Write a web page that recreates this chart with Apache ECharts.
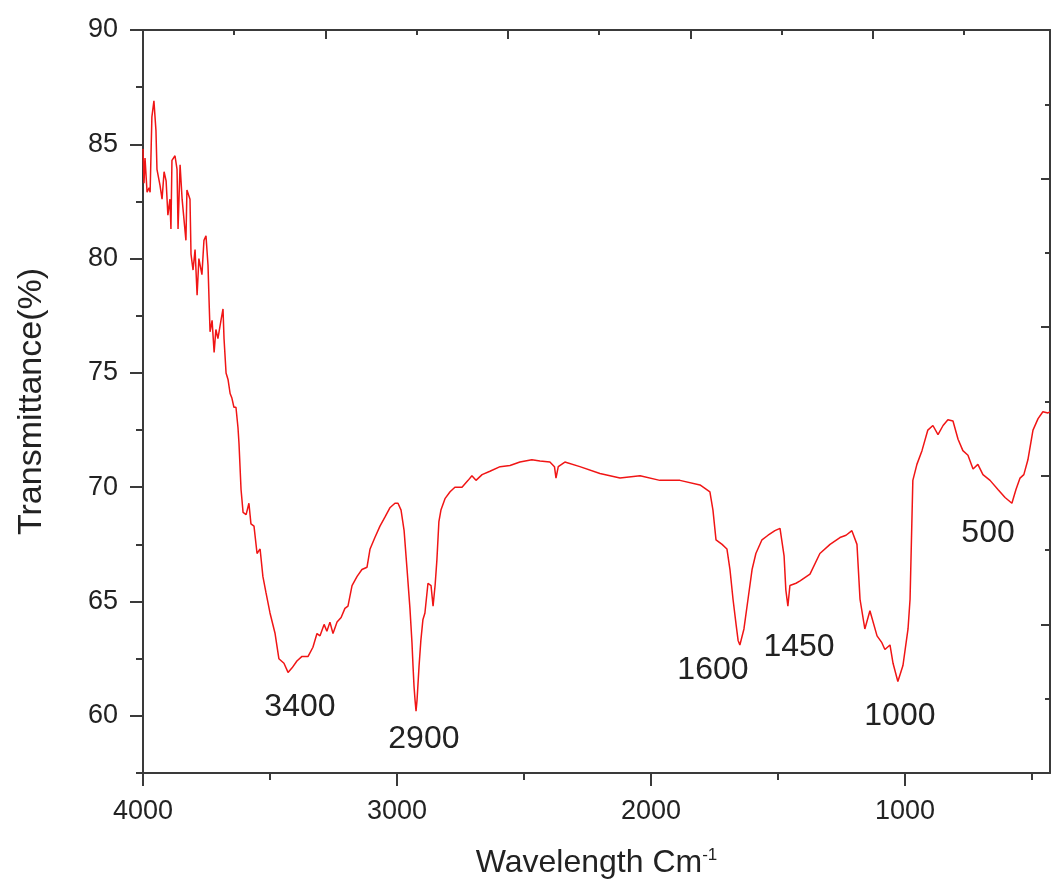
<!DOCTYPE html>
<html>
<head>
<meta charset="utf-8">
<script src="https://cdn.jsdelivr.net/npm/echarts@6/dist/echarts.min.js"></script>
<style>
  html, body { margin: 0; padding: 0; background: #fff; }
  #chart { width: 1051px; height: 886px; }
</style>
</head>
<body>
<div id="chart"></div>
<script>
// FTIR spectrum, [wavenumber, transmittance %]
const spectrum = [
  [4000, 84.8], [3996, 83.3], [3992, 84.4], [3984, 82.9], [3976, 83.1], [3972, 82.9], [3965, 86.2], [3957, 86.9],
  [3949, 85.6], [3945, 83.9], [3933, 83.2], [3925, 82.6], [3917, 83.8], [3909, 83.4], [3902, 81.9], [3894, 82.6],
  [3890, 81.3], [3886, 84.3], [3874, 84.5], [3866, 83.9], [3862, 81.3], [3854, 84.1], [3846, 82.6], [3839, 82.6],
  [3831, 80.8], [3827, 83.0], [3815, 82.6], [3811, 80.2], [3803, 79.5], [3795, 80.4], [3787, 78.4], [3780, 80.0],
  [3768, 79.3], [3760, 80.8], [3752, 81.0], [3744, 79.7], [3740, 78.2], [3736, 76.8], [3728, 77.3], [3720, 75.9],
  [3713, 76.9], [3705, 76.5], [3693, 77.3], [3685, 77.8], [3681, 76.5], [3673, 75.0], [3665, 74.7], [3657, 74.1],
  [3650, 73.9], [3642, 73.5], [3634, 73.5], [3626, 72.6], [3622, 71.9], [3614, 69.9], [3606, 68.9], [3594, 68.8],
  [3583, 69.3], [3575, 68.4], [3563, 68.3], [3551, 67.1], [3539, 67.3], [3528, 66.1], [3516, 65.4], [3500, 64.5],
  [3480, 63.6], [3465, 62.5], [3445, 62.3], [3429, 61.9], [3413, 62.1], [3394, 62.4], [3374, 62.6], [3350, 62.6],
  [3331, 63.0], [3315, 63.6], [3303, 63.5], [3287, 64.0], [3276, 63.7], [3264, 64.1], [3252, 63.6], [3236, 64.1],
  [3220, 64.3], [3205, 64.7], [3193, 64.8], [3177, 65.7], [3157, 66.1], [3138, 66.4], [3118, 66.5], [3106, 67.3],
  [3087, 67.8], [3067, 68.3], [3047, 68.7], [3028, 69.1], [3008, 69.3], [2996, 69.3], [2984, 69.0], [2972, 68.1],
  [2961, 66.5], [2949, 64.7], [2941, 63.2], [2937, 62.2], [2933, 61.3], [2929, 60.7], [2925, 60.2], [2921, 60.7],
  [2913, 62.2], [2906, 63.3], [2898, 64.2], [2890, 64.5], [2878, 65.8], [2866, 65.7], [2858, 64.8], [2850, 65.7],
  [2843, 66.8], [2835, 68.5], [2827, 69.0], [2811, 69.5], [2791, 69.8], [2772, 70.0], [2744, 70.0], [2720, 70.3],
  [2705, 70.5], [2689, 70.3], [2665, 70.55], [2634, 70.7], [2594, 70.9], [2555, 70.95], [2516, 71.1], [2469, 71.2],
  [2437, 71.15], [2398, 71.1], [2380, 70.9], [2374, 70.4], [2365, 70.9], [2339, 71.1], [2280, 70.9], [2201, 70.6],
  [2122, 70.4], [2043, 70.5], [1965, 70.3], [1886, 70.3], [1807, 70.1], [1768, 69.8], [1756, 69.0], [1744, 67.7],
  [1720, 67.5], [1701, 67.3], [1689, 66.4], [1677, 65.1], [1665, 64.0], [1657, 63.3], [1650, 63.1], [1634, 63.8],
  [1618, 65.1], [1602, 66.4], [1587, 67.1], [1563, 67.7], [1539, 67.9], [1512, 68.1], [1492, 68.2], [1476, 67.0],
  [1469, 65.5], [1461, 64.8], [1453, 65.7], [1429, 65.8], [1413, 65.9], [1374, 66.2], [1335, 67.1], [1295, 67.5],
  [1256, 67.8], [1232, 67.9], [1209, 68.1], [1189, 67.5], [1177, 65.1], [1158, 63.8], [1138, 64.6], [1110, 63.5],
  [1091, 63.2], [1079, 62.9], [1059, 63.1], [1047, 62.3], [1028, 61.5], [1008, 62.2], [988, 63.8], [980, 65.1],
  [969, 70.3], [953, 71.0], [933, 71.6], [910, 72.5], [890, 72.7], [870, 72.3], [850, 72.7], [831, 72.95],
  [811, 72.9], [791, 72.1], [772, 71.6], [752, 71.4], [732, 70.8], [713, 71.0], [693, 70.55], [665, 70.3],
  [634, 69.9], [606, 69.55], [579, 69.3], [563, 69.9], [547, 70.4], [532, 70.55], [516, 71.2], [496, 72.5],
  [476, 73.0], [457, 73.3], [437, 73.25], [429, 73.3]
]

// peak annotations [x, y, text]
const peakLabels = [
  [3382, 60.4, '3400'],
  [2894, 59.0, '2900'],
  [1756, 62.0, '1600'],
  [1417, 63.0, '1450'],
  [1020, 60.0, '1000'],
  [673, 68.0, '500']
]

const xLabels = [4000, 3000, 2000, 1000]
const xMinorTicks = [3500, 2500, 1500, 500]
const yLabels = [60, 65, 70, 75, 80, 85, 90]

const axisColor = '#3a3a3a'
const textColor = '#222'
const font = '"Liberation Sans", Arial, sans-serif'

const chart = echarts.init(document.getElementById('chart'))
chart.setOption({
  animation: false,
  grid: { left: 143, right: 1, top: 30, bottom: 113 },
  xAxis: [
    {
      type: 'value', position: 'bottom', inverse: true, min: 429, max: 4000,
      name: 'Wavelength Cm{sup|-1}', nameLocation: 'middle', nameGap: 74,
      nameTextStyle: {
        fontSize: 32, color: textColor, fontFamily: font,
        rich: { sup: { fontSize: 17, verticalAlign: 'top', color: textColor, fontFamily: font } }
      },
      axisLine: { lineStyle: { color: axisColor, width: 2 } },
      axisTick: { customValues: xMinorTicks, length: 7, lineStyle: { color: axisColor, width: 2 } },
      axisLabel: {
        customValues: xLabels, margin: 25, fontSize: 27, color: textColor, fontFamily: font,
        formatter: v => String(v)
      },
      splitLine: { show: false }
    },
    {
      type: 'value', position: 'bottom', inverse: true, min: 429, max: 4000,
      axisLine: { show: false },
      axisTick: { customValues: xLabels, length: 13, lineStyle: { color: axisColor, width: 2 } },
      axisLabel: { show: false },
      splitLine: { show: false }
    },
    {
      type: 'value', position: 'top', min: 0, max: 4.97, interval: 1,
      axisLine: { show: true, lineStyle: { color: axisColor, width: 2 } },
      axisTick: { inside: true, length: 9, lineStyle: { color: axisColor, width: 2 } },
      minorTick: { show: true, splitNumber: 2, length: 5, lineStyle: { color: axisColor, width: 2 } },
      axisLabel: { show: false },
      splitLine: { show: false }
    }
  ],
  yAxis: [
    {
      type: 'value', position: 'left', min: 57.5, max: 90, interval: 2.5,
      name: 'Transmittance(%)', nameLocation: 'middle', nameGap: 94,
      nameTextStyle: { fontSize: 34, color: textColor, fontFamily: font },
      axisLine: { show: true, lineStyle: { color: axisColor, width: 2 } },
      axisTick: { length: 7, lineStyle: { color: axisColor, width: 2 } },
      axisLabel: { customValues: yLabels, margin: 25, fontSize: 27, color: textColor, fontFamily: font },
      splitLine: { show: false }
    },
    {
      type: 'value', position: 'left', min: 57.5, max: 90,
      axisLine: { show: false },
      axisTick: { customValues: yLabels, length: 13, lineStyle: { color: axisColor, width: 2 } },
      axisLabel: { show: false },
      splitLine: { show: false }
    },
    {
      type: 'value', position: 'right', min: 0, max: 5, interval: 1,
      axisLine: { show: true, lineStyle: { color: axisColor, width: 2 } },
      axisTick: { inside: true, length: 9, lineStyle: { color: axisColor, width: 2 } },
      minorTick: { show: true, splitNumber: 2, length: 5, lineStyle: { color: axisColor, width: 2 } },
      axisLabel: { show: false },
      splitLine: { show: false }
    }
  ],
  series: [
    {
      type: 'line',
      xAxisIndex: 0, yAxisIndex: 0,
      data: spectrum,
      showSymbol: false,
      lineStyle: { color: '#f01515', width: 1.5 },
      silent: true
    },
    {
      type: 'scatter',
      xAxisIndex: 0, yAxisIndex: 0,
      data: peakLabels,
      symbolSize: 0,
      silent: true,
      itemStyle: { opacity: 1 },
      label: {
        show: true, position: 'inside',
        formatter: p => p.value[2],
        fontSize: 32, color: textColor, fontFamily: font
      }
    }
  ]
})
</script>
</body>
</html>
